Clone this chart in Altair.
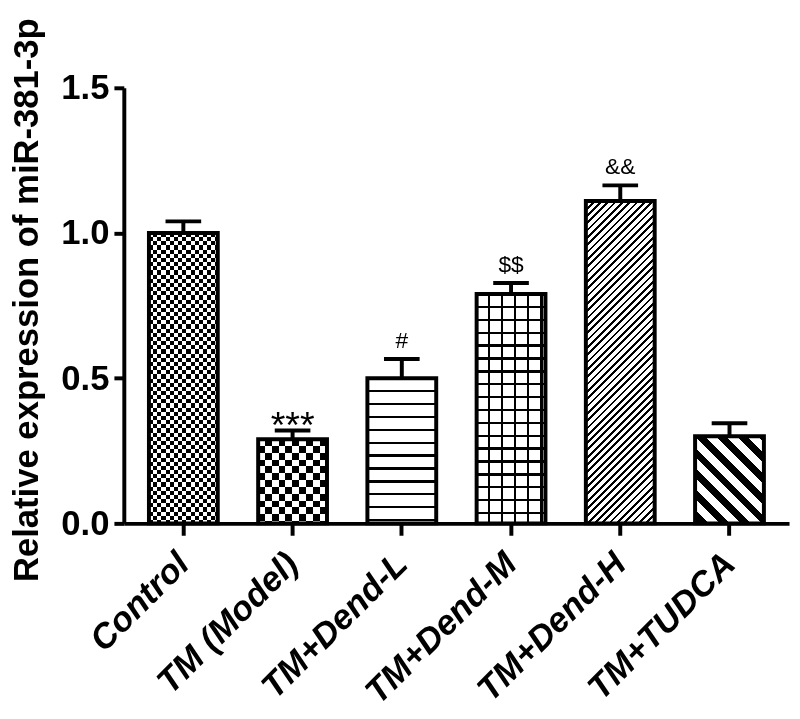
import altair as alt
import pandas as pd

# ---------------- data ----------------
groups = ["Control", "TM (Model)", "TM+Dend-L", "TM+Dend-M", "TM+Dend-H", "TM+TUDCA"]
means = [1.00, 0.29, 0.50, 0.79, 1.11, 0.30]
sems = [0.04, 0.03, 0.066, 0.038, 0.054, 0.045]
sig_marks = ["", "***", "#", "$$", "&&", ""]
y_ticks = [0.0, 0.5, 1.0, 1.5]

# ---------------- layout / style ----------------
W, H = 672, 440
YMAX = 1.5
P_IN, P_OUT = 0.37, 0.23
STEP = W / (len(groups) - P_IN + 2 * P_OUT)
BW = STEP * (1 - P_IN)
PX = H / YMAX
FONT = "Liberation Sans, Arial, sans-serif"
CLEAR = "rgba(255,255,255,0)"

df = pd.DataFrame({"group": groups, "mean": means, "sem": sems, "mark": sig_marks})
df["top"] = df["mean"] + df["sem"]


def band_stops(length, period, thick, phase, on, off):
    stops = [{"offset": 0, "color": off}]
    s = phase - period * (int(phase / period) + 1)
    while s < length:
        a, b = max(s, 0.0), min(s + thick, length)
        if b > a:
            oa, ob = round(a / length, 5), round(b / length, 5)
            stops += [{"offset": oa, "color": off}, {"offset": oa, "color": on},
                      {"offset": ob, "color": on}, {"offset": ob, "color": off}]
        s += period
    stops.append({"offset": 1, "color": off})
    return stops


def grad_h_stripes(h, period, thick, phase, on, off):
    return {"gradient": "linear", "x1": 0, "y1": 0, "x2": 0, "y2": 1,
            "stops": band_stops(h, period, thick, phase, on, off)}


def grad_v_stripes(w, period, thick, phase, on, off):
    return {"gradient": "linear", "x1": 0, "y1": 0, "x2": 1, "y2": 0,
            "stops": band_stops(w, period, thick, phase, on, off)}


def grad_diag(w, h, period, thick, phase, on, off, forward=True):
    a = (w + h) / (w * w + h * h)
    if forward:  # "/" lines
        g = {"x1": 0, "y1": 0, "x2": round(w * a, 6), "y2": round(h * a, 6)}
    else:  # "\" lines
        g = {"x1": 0, "y1": 1, "x2": round(w * a, 6), "y2": round(1 - h * a, 6)}
    g.update({"gradient": "linear", "stops": band_stops(w + h, period, thick, phase, on, off)})
    return g


x_enc = alt.X(
    "group:N", sort=groups, title=None,
    scale=alt.Scale(paddingInner=P_IN, paddingOuter=P_OUT),
    axis=alt.Axis(labelAngle=-45, labelAlign="right", labelBaseline="middle",
                  labelFont=FONT, labelFontSize=35, labelFontWeight="bold",
                  labelFontStyle="italic", labelColor="black", labelPadding=23,
                  labelLimit=0,
                  tickSize=12, tickWidth=4, tickColor="black",
                  domainWidth=4, domainColor="black", grid=False, labelOverlap=False),
)
y_enc = alt.Y(
    "mean:Q", title="Relative expression of miR-381-3p",
    scale=alt.Scale(domain=[0, YMAX], nice=False, zero=True),
    axis=alt.Axis(values=y_ticks, format=".1f", labelFont=FONT, labelFontSize=35,
                  labelFontWeight="bold", labelColor="black", labelPadding=5,
                  tickSize=10, tickWidth=4, tickColor="black",
                  domainWidth=4, domainColor="black", grid=False,
                  titleFont=FONT, titleFontSize=35, titleFontWeight="bold",
                  titleColor="black", titleX=-87, titleY=H / 2 - 6,
                  titleAngle=270, titleAlign="center", titleBaseline="alphabetic",
                  titleLimit=0),
)

base = alt.Chart()
layers = []


def pat(group, fill, blend=None):
    kw = {"fill": fill, "strokeWidth": 0}
    if blend:
        kw["blend"] = blend
    return base.mark_bar(**kw).encode(x=x_enc, y=y_enc).transform_filter(alt.datum.group == group)


hpx = {g: m * PX for g, m in zip(groups, means)}

# Control: fine checkerboard
c = 4.2
layers.append(pat(groups[0], grad_h_stripes(hpx[groups[0]], 2 * c, c, 0, "black", "white")))
layers.append(pat(groups[0], grad_v_stripes(BW, 2 * c, c, 0, "white", CLEAR), blend="difference"))
# Model: coarse checkerboard
c = 6.9
layers.append(pat(groups[1], grad_h_stripes(hpx[groups[1]], 2 * c, c, 0, "black", "white")))
layers.append(pat(groups[1], grad_v_stripes(BW, 2 * c, c, 0, "white", CLEAR), blend="difference"))
# Dend-L: horizontal lines
layers.append(pat(groups[2], grad_h_stripes(hpx[groups[2]], 13, 2.4, 12, "black", "white")))
# Dend-M: grid
layers.append(pat(groups[3], grad_h_stripes(hpx[groups[3]], 13, 2.4, 12, "black", "white")))
layers.append(pat(groups[3], grad_v_stripes(BW, 13.3, 2.4, 11, "black", CLEAR)))
# Dend-H: fine "/" hatching
layers.append(pat(groups[4], grad_diag(BW, hpx[groups[4]], 7.4, 2.8, 0, "black", "white", True)))
# TUDCA: thick "\" stripes
layers.append(pat(groups[5], grad_diag(BW, hpx[groups[5]], 21, 10, 4, "black", "white", False)))

# outlines
layers.append(base.mark_bar(fillOpacity=0, stroke="black", strokeWidth=4).encode(x=x_enc, y=y_enc))

# error bars
layers.append(base.mark_rule(color="black", strokeWidth=4).encode(
    x=x_enc, y=alt.Y("mean:Q"), y2=alt.Y2("top:Q")))
layers.append(base.mark_tick(color="black", size=36, thickness=4, opacity=1).encode(
    x=x_enc, y=alt.Y("top:Q")))

# significance marks
layers.append(base.mark_text(font=FONT, fontSize=23, color="black", baseline="alphabetic",
                             dy=-11).encode(x=x_enc, y=alt.Y("top:Q"), text="mark:N")
              .transform_filter((alt.datum.mark != "") & (alt.datum.mark != "***")))
layers.append(base.mark_text(font=FONT, fontSize=38, color="black", baseline="alphabetic",
                             dy=8).encode(x=x_enc, y=alt.Y("top:Q"), text="mark:N")
              .transform_filter(alt.datum.mark == "***"))

chart = alt.layer(*layers, data=df).properties(
    width=W, height=H,
    autosize=alt.AutoSizeParams(type="none"),
    padding={"left": 117, "top": 77, "right": 3, "bottom": 194},
).configure_view(strokeWidth=0)

chart.save("out.html", embed_options={"renderer": "svg", "actions": False})
